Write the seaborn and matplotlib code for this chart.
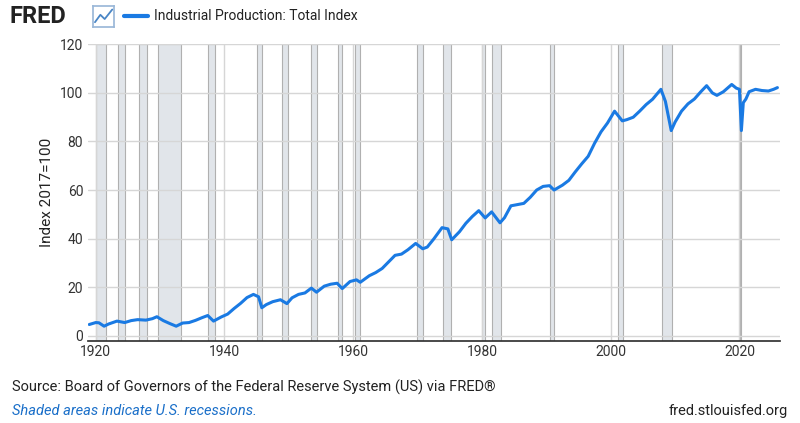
import pandas as pd
import matplotlib
matplotlib.use("Agg")
import matplotlib.pyplot as plt
import seaborn as sns

sns.set_theme(style="white")
plt.rcParams['font.family'] = ['Roboto', 'DejaVu Sans']

# approximate readings of the series (fractional year, index 2017=100)
years = [1919.0, 1920.0, 1920.5, 1921.3, 1922.0, 1923.3, 1924.5, 1925.5, 1926.5, 1927.8,
         1928.8, 1929.5, 1930.5, 1931.5, 1932.5, 1933.5, 1934.5, 1935.5, 1936.5, 1937.4,
         1938.3, 1939.5, 1940.5, 1941.5, 1942.5, 1943.5, 1944.5, 1945.3, 1945.8, 1946.5,
         1947.5, 1948.7, 1949.7, 1950.5, 1951.5, 1952.5, 1953.5, 1954.3, 1955.5, 1956.5,
         1957.5, 1958.3, 1959.5, 1960.5, 1961.1, 1962.5, 1963.5, 1964.5, 1965.5, 1966.5,
         1967.5, 1968.5, 1969.7, 1970.8, 1971.5, 1972.5, 1973.8, 1974.7, 1975.3, 1976.5,
         1977.5, 1978.5, 1979.5, 1980.5, 1981.5, 1982.8, 1983.5, 1984.5, 1985.5, 1986.5,
         1987.5, 1988.5, 1989.5, 1990.5, 1991.2, 1992.5, 1993.5, 1994.5, 1995.5, 1996.5,
         1997.5, 1998.5, 1999.5, 2000.6, 2001.8, 2002.5, 2003.5, 2004.5, 2005.5, 2006.5,
         2007.8, 2008.5, 2009.4, 2010.0, 2011.0, 2012.0, 2013.0, 2014.0, 2014.9, 2015.8,
         2016.5, 2017.5, 2018.8, 2019.5, 2020.0, 2020.3, 2020.6, 2021.0, 2021.5, 2022.5,
         2023.5, 2024.5, 2025.3, 2025.9]
ip_index = [4.6, 5.4, 5.3, 3.9, 4.8, 6.0, 5.4, 6.2, 6.6, 6.4,
            7.0, 7.8, 6.2, 5.0, 3.9, 5.2, 5.4, 6.3, 7.4, 8.3,
            6.0, 7.7, 8.9, 11.2, 13.3, 15.7, 17.0, 16.0, 11.5, 12.8,
            14.0, 14.8, 13.2, 15.6, 17.0, 17.6, 19.6, 17.9, 20.4, 21.2,
            21.6, 19.4, 22.3, 23.0, 22.0, 24.7, 26.0, 27.7, 30.4, 33.1,
            33.6, 35.4, 38.0, 35.8, 36.5, 39.8, 44.5, 44.0, 39.5, 42.8,
            46.3, 49.1, 51.5, 48.5, 51.0, 46.5, 48.6, 53.5, 54.0, 54.5,
            57.0, 60.0, 61.5, 61.8, 60.0, 62.0, 64.0, 67.5, 70.8, 73.9,
            79.3, 84.0, 87.6, 92.5, 88.5, 89.0, 90.0, 92.5, 95.2, 97.4,
            101.5, 96.5, 84.5, 88.0, 92.5, 95.5, 97.5, 100.5, 103.0, 100.0,
            99.0, 100.5, 103.5, 102.0, 101.5, 84.5, 96.0, 97.5, 100.5, 101.5,
            101.0, 100.8, 101.5, 102.2]

recessions = [(1920.0, 1921.6), (1923.4, 1924.6), (1926.8, 1927.9), (1929.6, 1933.2),
              (1937.4, 1938.5), (1945.1, 1945.8), (1948.9, 1949.8), (1953.5, 1954.4),
              (1957.6, 1958.3), (1960.3, 1961.1), (1969.9, 1970.9), (1973.9, 1975.2),
              (1980.0, 1980.5), (1981.5, 1982.9), (1990.5, 1991.2), (2001.2, 2001.9),
              (2007.9, 2009.5), (2020.1, 2020.3)]

df = pd.DataFrame({"year": years, "value": ip_index})

fig = plt.figure(figsize=(8, 4.23), dpi=100)
ax = fig.add_axes([0.11, 0.195, 0.865, 0.70])

for start, end in recessions:
    ax.axvspan(start, end, facecolor="#e1e5ea", edgecolor="#b0b0b0", linewidth=0.8, zorder=0)

sns.lineplot(data=df, x="year", y="value", ax=ax, color="#1a7ae3", linewidth=2.2, zorder=3)

ax.set_xlim(1918.8, 2026.3)
ax.set_ylim(-2, 120)
ax.set_yticks(range(0, 121, 20))
ax.set_xticks(range(1920, 2021, 20))
ax.grid(True, axis="both", color="#d6d6d6", linewidth=1)
ax.set_axisbelow(True)
for s in ["top", "right", "left"]:
    ax.spines[s].set_visible(False)
ax.spines["bottom"].set_color("#333333")
ax.tick_params(axis="both", labelsize=10, colors="#333333", length=0)
ax.set_xlabel("")
ax.set_ylabel("Index 2017=100", fontsize=11, color="#222222")

# header
fig.text(0.012, 0.945, "FRED", fontsize=17, fontweight="bold", color="#222222")
icon = fig.add_axes([0.116, 0.935, 0.027, 0.05])
icon.set_xlim(0, 1)
icon.set_ylim(0, 1)
icon.set_xticks([])
icon.set_yticks([])
for s in icon.spines.values():
    s.set_color("#9bb8d8")
icon.plot([0.1, 0.35, 0.55, 0.9], [0.25, 0.6, 0.4, 0.85], color="#4a86c6", linewidth=1.3)
fig.add_artist(plt.Line2D([0.155, 0.185], [0.962, 0.962], color="#1a7ae3", linewidth=3))
fig.text(0.192, 0.952, "Industrial Production: Total Index", fontsize=10, color="#222222")

# footer
fig.text(0.015, 0.075, "Source: Board of Governors of the Federal Reserve System (US) via FRED®",
         fontsize=10.5, color="#222222")
fig.text(0.015, 0.02, "Shaded areas indicate U.S. recessions.", fontsize=10.5,
         color="#1a6fc9", style="italic")
fig.text(0.985, 0.02, "fred.stlouisfed.org", fontsize=10.5, color="#222222", ha="right")

fig.savefig("out.png", dpi=100)
